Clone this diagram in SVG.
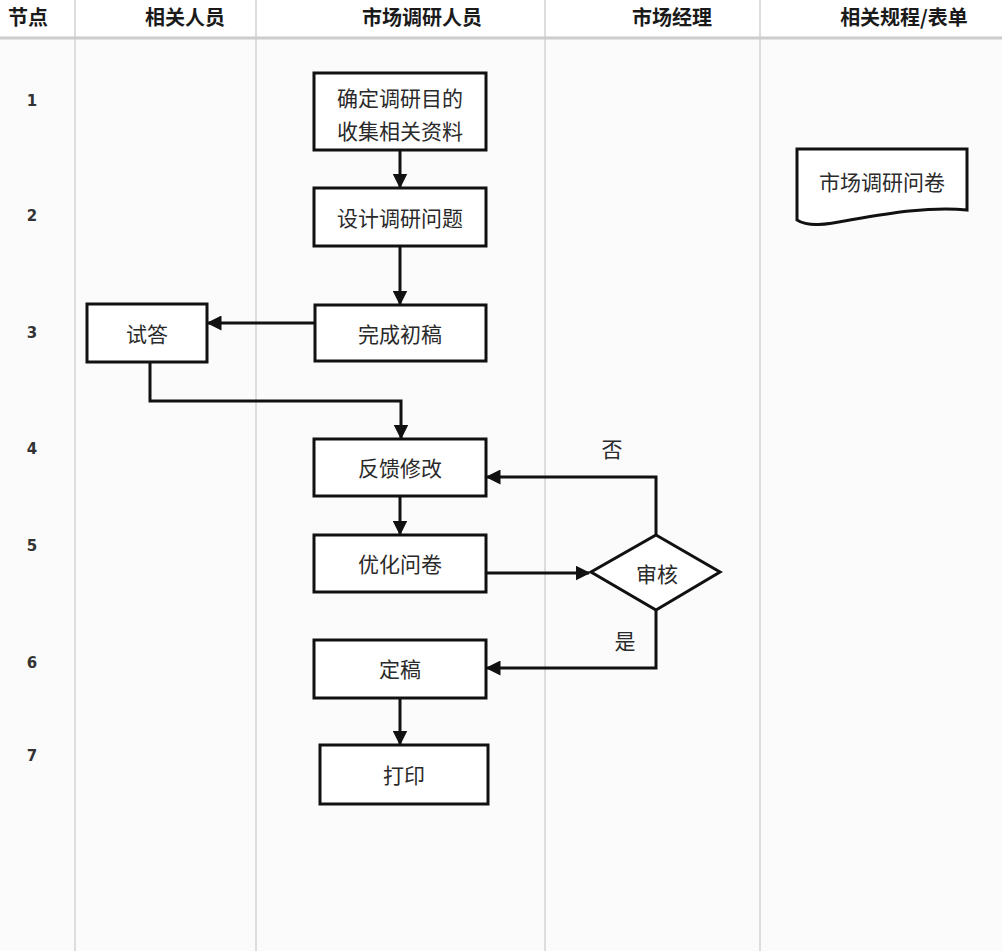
<svg xmlns="http://www.w3.org/2000/svg" width="1002" height="951" viewBox="0 0 1002 951">
<style>
.hdr{font-family:"Noto Sans CJK SC","Liberation Sans",sans-serif;font-size:20px;font-weight:bold;fill:#1a1a1a;text-anchor:middle}
.num{font-family:"DejaVu Sans","Liberation Sans",sans-serif;font-size:15px;font-weight:bold;fill:#333;text-anchor:middle}
.lbl{font-family:"Noto Sans CJK SC","Liberation Sans",sans-serif;font-size:21px;fill:#2a2a2a;text-anchor:middle;dominant-baseline:central}
.box{fill:#fff;stroke:#111;stroke-width:3}
.col{stroke:#ddd;stroke-width:2}
.con{fill:none;stroke:#111;stroke-width:3}
</style>
<defs>
<marker id="arr" viewBox="0 0 10 10" refX="9" refY="5" markerWidth="5" markerHeight="5" orient="auto" markerUnits="strokeWidth">
<path d="M0,0 L10,5 L0,10 Z" fill="#111"/>
</marker>
</defs>
<rect x="0" y="0" width="1002" height="951" fill="#fbfbfb"/>
<rect x="0" y="0" width="1002" height="37" fill="#fff"/>
<g id="grid">
<line class="col" x1="75" y1="0" x2="75" y2="951"/>
<line class="col" x1="256" y1="0" x2="256" y2="951"/>
<line class="col" x1="545" y1="0" x2="545" y2="951"/>
<line class="col" x1="760" y1="0" x2="760" y2="951"/>
<line x1="0" y1="38" x2="1002" y2="38" stroke="#ccc" stroke-width="3"/>
</g>
<g id="header">
<text class="hdr" x="28" y="25">节点</text>
<text class="hdr" x="185" y="25">相关人员</text>
<text class="hdr" x="422" y="25">市场调研人员</text>
<text class="hdr" x="672" y="25">市场经理</text>
<text class="hdr" x="904" y="25">相关规程/表单</text>
</g>
<g id="numbers">
<text class="num" x="32" y="106">1</text>
<text class="num" x="32" y="221">2</text>
<text class="num" x="32" y="338">3</text>
<text class="num" x="32" y="454">4</text>
<text class="num" x="32" y="551">5</text>
<text class="num" x="32" y="668">6</text>
<text class="num" x="32" y="761">7</text>
</g>
<g id="connectors">
<line class="con" x1="400" y1="150" x2="400" y2="187" marker-end="url(#arr)"/>
<line class="con" x1="400" y1="246" x2="400" y2="304" marker-end="url(#arr)"/>
<line class="con" x1="315" y1="323" x2="208" y2="323" marker-end="url(#arr)"/>
<polyline class="con" points="150,362 150,401 401,401 401,438" marker-end="url(#arr)"/>
<line class="con" x1="400" y1="496" x2="400" y2="534" marker-end="url(#arr)"/>
<line class="con" x1="486" y1="573" x2="589" y2="573" marker-end="url(#arr)"/>
<polyline class="con" points="656,535 656,477 487,477" marker-end="url(#arr)"/>
<polyline class="con" points="656,610 656,668 487,668" marker-end="url(#arr)"/>
<line class="con" x1="400" y1="698" x2="400" y2="744" marker-end="url(#arr)"/>
<text class="lbl" x="612" y="448">否</text>
<text class="lbl" x="625" y="640">是</text>
</g>
<g id="n1"><rect class="box" x="314" y="73" width="172" height="77"/><text class="lbl" x="400" y="97">确定调研目的</text><text class="lbl" x="400" y="130">收集相关资料</text></g>
<g id="n2"><rect class="box" x="314" y="188" width="172" height="58"/><text class="lbl" x="400" y="217">设计调研问题</text></g>
<g id="n3"><rect class="box" x="315" y="305" width="171" height="56"/><text class="lbl" x="400" y="333">完成初稿</text></g>
<g id="n4"><rect class="box" x="87" y="304" width="120" height="58"/><text class="lbl" x="147" y="333">试答</text></g>
<g id="n5"><rect class="box" x="314" y="439" width="172" height="57"/><text class="lbl" x="400" y="467">反馈修改</text></g>
<g id="n6"><rect class="box" x="314" y="535" width="172" height="57"/><text class="lbl" x="400" y="563">优化问卷</text></g>
<g id="n7"><polygon class="box" points="656,535 720,572 656,610 591,572"/><text class="lbl" x="657" y="573">审核</text></g>
<g id="n8"><rect class="box" x="314" y="640" width="172" height="58"/><text class="lbl" x="400" y="668">定稿</text></g>
<g id="n9"><rect class="box" x="320" y="745" width="168" height="59"/><text class="lbl" x="404" y="774">打印</text></g>
<g id="doc"><path class="box" d="M797,149 H967 V210 C930,206 885,214 850,220 C825,225 808,227 797,220 Z"/><text class="lbl" x="882" y="181">市场调研问卷</text></g>
</svg>
